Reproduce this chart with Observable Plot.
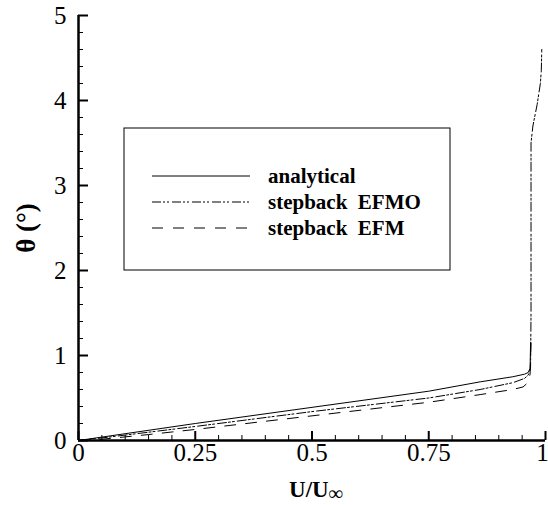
<!DOCTYPE html>
<html>
<head>
<meta charset="utf-8">
<script src="https://cdn.jsdelivr.net/npm/d3@7"></script>
<script src="https://cdn.jsdelivr.net/npm/@observablehq/plot@0.6"></script>
<style>
  html, body { margin: 0; padding: 0; background: #fff; }
  #chart { width: 548px; height: 505px; }
  #chart svg, #chart svg text { font-family: "Liberation Serif", "Times New Roman", Times, Tinos, "Nimbus Roman", "DejaVu Serif", "Noto Serif", serif !important; }
</style>
</head>
<body>
<div id="chart"></div>
<script>
// ---- data ----
const seriesNames = ["analytical", "stepback  EFMO", "stepback  EFM"];

const analyticalU     = [0, 0.05, 0.25, 0.5, 0.75, 0.86, 0.93, 0.955, 0.963, 0.967, 0.968];
const analyticalTheta = [0, 0.04, 0.20, 0.39, 0.58, 0.69, 0.75, 0.78, 0.80, 0.85, 1.15];

const efmoU     = [0, 0.05, 0.25, 0.5, 0.75, 0.86, 0.93, 0.955, 0.963, 0.968, 0.969, 0.969, 0.973, 0.982, 0.989, 0.991, 0.992];
const efmoTheta = [0, 0.03, 0.165, 0.34, 0.50, 0.60, 0.68, 0.73, 0.77, 0.85, 1.5, 3.5, 3.7, 3.95, 4.2, 4.35, 4.6];

const efmU     = [0, 0.05, 0.15, 0.25, 0.5, 0.75, 0.86, 0.93, 0.952, 0.962, 0.967, 0.969];
const efmTheta = [0, 0.015, 0.07, 0.13, 0.29, 0.45, 0.54, 0.60, 0.63, 0.68, 0.78, 1.15];

const xMajorTicks = [0, 0.25, 0.5, 0.75, 1];
const xTickLabels = ["0", "0.25", "0.5", "0.75", "1"];
const yMajorTicks = [0, 1, 2, 3, 4, 5];
const yTickLabels = ["0", "1", "2", "3", "4", "5"];
const xMinorStep = 0.05;
const yMinorStep = 0.2;

// ---- build tables ----
const toRows = (us, ts) => us.map((u, i) => ({u, t: ts[i]}));
const analytical = toRows(analyticalU, analyticalTheta);
const efmo = toRows(efmoU, efmoTheta);
const efm = toRows(efmU, efmTheta);

const xMinor = d3.range(0, 1 + 1e-9, xMinorStep).filter(v => !xMajorTicks.some(m => Math.abs(m - v) < 1e-6));
const yMinor = d3.range(0, 5 + 1e-9, yMinorStep).filter(v => !yMajorTicks.some(m => Math.abs(m - v) < 1e-6));

const W = 548, H = 505;
const mL = 78, mR = 3, mT = 15, mB = 65;
const plotW = W - mL - mR, plotH = H - mT - mB;
const serif = "'Liberation Serif', 'Times New Roman', Times, Tinos, 'Nimbus Roman', 'DejaVu Serif', 'Noto Serif', serif";

const dashEFMO = "9,2,2,2,2,3";
const dashEFM = "11,10";

const chart = Plot.plot({
  width: W,
  height: H,
  marginLeft: mL,
  marginRight: mR,
  marginTop: mT,
  marginBottom: mB,
  style: {fontSize: "25px", color: "#000", background: "#fff", overflow: "visible"},
  x: {domain: [0, 1]},
  y: {domain: [0, 5]},
  marks: [
    Plot.axisX({ticks: xMajorTicks, tickFormat: (d) => xTickLabels[xMajorTicks.indexOf(d)], tickSize: 0, tickPadding: 3, label: null, fontSize: 25}),
    Plot.axisY({ticks: yMajorTicks, tickFormat: (d) => yTickLabels[yMajorTicks.indexOf(d)], tickSize: 0, tickPadding: 12, label: null, fontSize: 25}),
    // inward ticks
    Plot.tickX(xMajorTicks, {x: d => d, insetTop: plotH - 9, stroke: "#000", strokeWidth: 2}),
    Plot.tickX(xMinor, {x: d => d, insetTop: plotH - 5, stroke: "#000", strokeWidth: 1}),
    Plot.tickY(yMajorTicks, {y: d => d, insetRight: plotW - 10, stroke: "#000", strokeWidth: 2}),
    Plot.tickY(yMinor, {y: d => d, insetRight: plotW - 5, stroke: "#000", strokeWidth: 1}),
    // curves
    Plot.line(analytical, {x: "u", y: "t", stroke: "#000", strokeWidth: 1}),
    Plot.line(efmo, {x: "u", y: "t", stroke: "#000", strokeWidth: 1, strokeDasharray: dashEFMO}),
    Plot.line(efm, {x: "u", y: "t", stroke: "#000", strokeWidth: 1, strokeDasharray: dashEFM}),
    // axis lines
    Plot.ruleY([0], {stroke: "#000", strokeWidth: 2.5}),
    Plot.ruleX([0], {stroke: "#000", strokeWidth: 2.5})
  ]
});

const svg = d3.select(chart);
svg.selectAll("text").style("font-family", serif);

// keep the last x tick label inside the picture
svg.selectAll("[aria-label='x-axis tick label'] text").each(function(d, i, nodes) {
  if (i === nodes.length - 1) d3.select(this).attr("dx", -3);
});

// axis titles
svg.append("text")
  .attr("transform", `translate(29,228) rotate(-90)`)
  .attr("text-anchor", "middle")
  .attr("dominant-baseline", "middle")
  .style("font-family", serif).style("font-weight", "bold").style("font-size", "27px")
  .text("θ (°)");

const xt = svg.append("text")
  .attr("x", 316)
  .attr("y", 497)
  .attr("text-anchor", "middle")
  .style("font-family", serif).style("font-weight", "bold").style("font-size", "23px");
xt.append("tspan").text("U/U");
xt.append("tspan").attr("dy", 3).style("font-size", "20px").text("∞");

// legend
const lg = svg.append("g");
const box = {x: 124, y: 128, w: 326, h: 142};
lg.append("rect").attr("x", box.x).attr("y", box.y).attr("width", box.w).attr("height", box.h)
  .attr("fill", "#fff").attr("stroke", "#000").attr("stroke-width", 1);
const dashes = [null, dashEFMO, dashEFM];
const rowsY = [176, 202, 228];
seriesNames.forEach((name, i) => {
  lg.append("line").attr("x1", 152).attr("x2", 250).attr("y1", rowsY[i]).attr("y2", rowsY[i])
    .attr("stroke", "#000").attr("stroke-width", 1).attr("stroke-dasharray", dashes[i]);
  lg.append("text").attr("x", 268).attr("y", rowsY[i]).attr("dy", "0.35em")
    .attr("text-anchor", "start")
    .style("font-family", serif).style("font-weight", "bold").style("font-size", "21px")
    .style("white-space", "pre").attr("xml:space", "preserve")
    .text(name);
});

document.getElementById("chart").appendChild(chart);
</script>
</body>
</html>
